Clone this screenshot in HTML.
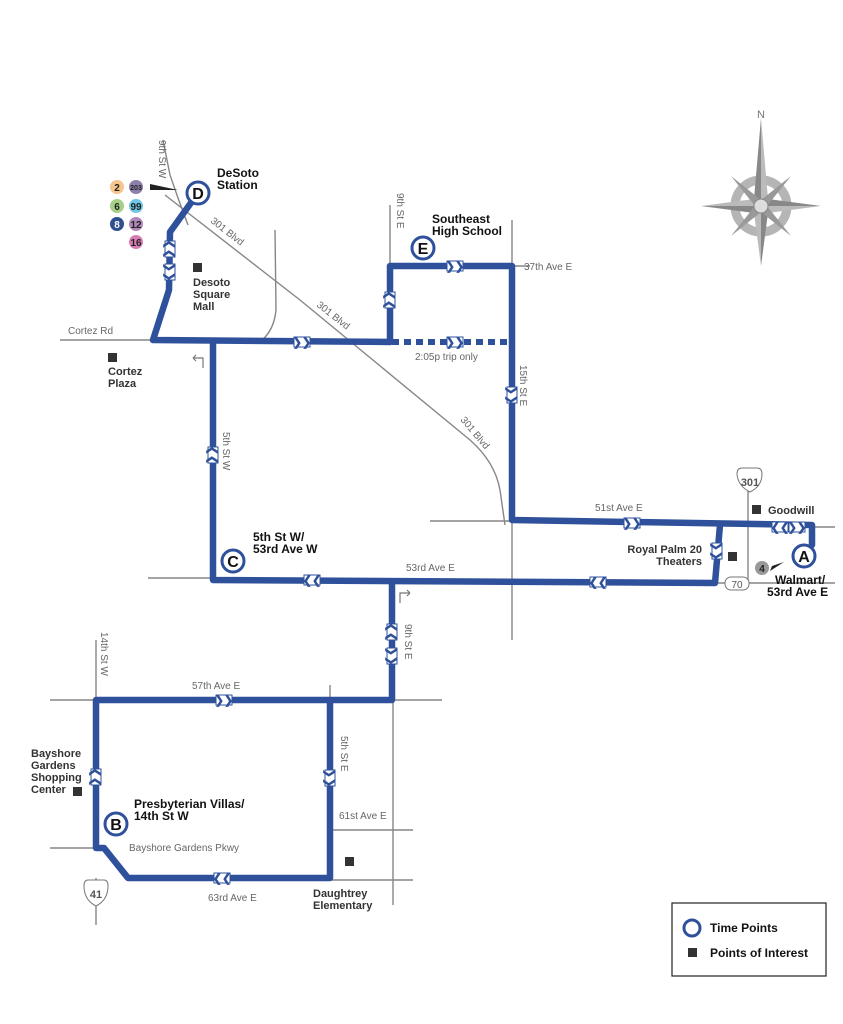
<!DOCTYPE html>
<html><head><meta charset="utf-8"><style>
html,body{margin:0;padding:0;background:#fff}
svg{display:block}
text{font-family:"Liberation Sans",sans-serif}
.r{fill:none;stroke:#868686;stroke-width:1.4}
.b{fill:none;stroke:#2f519c;stroke-width:6.5;stroke-linejoin:round;stroke-linecap:round}
.l{font-size:10px;fill:#666}
.p{font-size:11px;font-weight:bold;fill:#333}
.t{font-size:12px;font-weight:bold;fill:#111}
.c{fill:#fff;stroke:#2f519c;stroke-width:1}
</style></head><body>
<svg width="843" height="1024" viewBox="0 0 843 1024" xmlns="http://www.w3.org/2000/svg">
<g class="r">
<path d="M163 140 L170 175 L178 198 L188 225"/>
<path d="M165 195 L300 300 L470 440 Q495 462 500 490 L505 525"/>
<path d="M60 340 L153 340"/>
<path d="M275 230 L276 310 Q274 330 262 340"/>
<path d="M390 205 L390 266"/>
<path d="M512 220 L512 640"/>
<path d="M512 266 L530 266"/>
<path d="M430 521 L512 521"/>
<path d="M148 578 L213 578"/>
<path d="M715 583 L835 583"/>
<path d="M748 490 L748 580"/>
<path d="M812 527 L835 527"/>
<path d="M96 640 L96 700"/>
<path d="M50 700 L96 700"/>
<path d="M392 700 L442 700"/>
<path d="M330 685 L330 700"/>
<path d="M50 848 L96 848"/>
<path d="M96 878 L96 925"/>
<path d="M330 830 L413 830"/>
<path d="M330 880 L413 880"/>
<path d="M393 700 L393 905"/>
</g>
<path d="M392 342 L512 342" stroke="#2f519c" stroke-width="6" stroke-dasharray="7,5" fill="none"/>
<path class="b" d="M198 193 L170 232 L169 290 L153 340 L390 342 L390 266 L512 266 L512 520 L812 525 L812 545"/>
<path class="b" d="M213 342 L213 580 L715 583 L720 525"/>
<path class="b" d="M392 582 L392 700 L96 700 L96 848 L104 848 L128 878 L330 878 L330 700"/>
<g font-size="11" font-weight="bold" fill="#2f519c" text-anchor="middle">
<g transform="translate(302,342)"><rect x="-8" y="-5" width="16" height="10" class="c"/><text y="4">❯❯</text></g>
<g transform="translate(455,266)"><rect x="-8" y="-5" width="16" height="10" class="c"/><text y="4">❯❯</text></g>
<g transform="translate(455,342)"><rect x="-8" y="-5" width="16" height="10" class="c"/><text y="4">❯❯</text></g>
<g transform="translate(632,523)"><rect x="-8" y="-5" width="16" height="10" class="c"/><text y="4">❯❯</text></g>
<g transform="translate(780,527)"><rect x="-8" y="-5" width="16" height="10" class="c"/><text y="4">❮❮</text></g>
<g transform="translate(797,527)"><rect x="-8" y="-5" width="16" height="10" class="c"/><text y="4">❯❯</text></g>
<g transform="translate(598,582)"><rect x="-8" y="-5" width="16" height="10" class="c"/><text y="4">❮❮</text></g>
<g transform="translate(312,580)"><rect x="-8" y="-5" width="16" height="10" class="c"/><text y="4">❮❮</text></g>
<g transform="translate(224,700)"><rect x="-8" y="-5" width="16" height="10" class="c"/><text y="4">❯❯</text></g>
<g transform="translate(222,878)"><rect x="-8" y="-5" width="16" height="10" class="c"/><text y="4">❮❮</text></g>
<g transform="translate(170,249) rotate(90)"><rect x="-8" y="-5" width="16" height="10" class="c"/><text y="4">❮❮</text></g>
<g transform="translate(170,272) rotate(90)"><rect x="-8" y="-5" width="16" height="10" class="c"/><text y="4">❯❯</text></g>
<g transform="translate(390,300) rotate(90)"><rect x="-8" y="-5" width="16" height="10" class="c"/><text y="4">❮❮</text></g>
<g transform="translate(512,395) rotate(90)"><rect x="-8" y="-5" width="16" height="10" class="c"/><text y="4">❯❯</text></g>
<g transform="translate(213,455) rotate(90)"><rect x="-8" y="-5" width="16" height="10" class="c"/><text y="4">❮❮</text></g>
<g transform="translate(392,632) rotate(90)"><rect x="-8" y="-5" width="16" height="10" class="c"/><text y="4">❮❮</text></g>
<g transform="translate(392,656) rotate(90)"><rect x="-8" y="-5" width="16" height="10" class="c"/><text y="4">❯❯</text></g>
<g transform="translate(96,777) rotate(90)"><rect x="-8" y="-5" width="16" height="10" class="c"/><text y="4">❮❮</text></g>
<g transform="translate(330,778) rotate(90)"><rect x="-8" y="-5" width="16" height="10" class="c"/><text y="4">❯❯</text></g>
<g transform="translate(717,551) rotate(90)"><rect x="-8" y="-5" width="16" height="10" class="c"/><text y="4">❯❯</text></g>
</g>
<text class="l" x="68" y="334">Cortez Rd</text>
<text class="l" transform="translate(210,222) rotate(38)">301 Blvd</text>
<text class="l" transform="translate(316,306) rotate(38)">301 Blvd</text>
<text class="l" transform="translate(460,420) rotate(50)">301 Blvd</text>
<text class="l" transform="translate(159,140) rotate(90)">9th St W</text>
<text class="l" transform="translate(397,193) rotate(90)">9th St E</text>
<text class="l" x="524" y="270">37th Ave E</text>
<text class="l" x="415" y="360">2:05p trip only</text>
<text class="l" transform="translate(520,365) rotate(90)">15th St E</text>
<text class="l" transform="translate(223,432) rotate(90)">5th St W</text>
<text class="l" x="595" y="511">51st Ave E</text>
<text class="l" x="406" y="571">53rd Ave E</text>
<text class="l" transform="translate(405,624) rotate(90)">9th St E</text>
<text class="l" transform="translate(101,632) rotate(90)">14th St W</text>
<text class="l" x="192" y="689">57th Ave E</text>
<text class="l" transform="translate(341,736) rotate(90)">5th St E</text>
<text class="l" x="339" y="819">61st Ave E</text>
<text class="l" x="129" y="851">Bayshore Gardens Pkwy</text>
<text class="l" x="208" y="901">63rd Ave E</text>
<path d="M193 358 L203 358 L203 368 M193 358 l3 -3 M193 358 l3 3" fill="none" stroke="#777" stroke-width="1.2"/>
<path d="M410 593 L400 593 L400 603 M410 593 l-3 -3 M410 593 l-3 3" fill="none" stroke="#777" stroke-width="1.2"/>
<g fill="#333"><rect x="193" y="263" width="9" height="9"/><rect x="108" y="353" width="9" height="9"/><rect x="752" y="505" width="9" height="9"/><rect x="728" y="552" width="9" height="9"/><rect x="73" y="787" width="9" height="9"/><rect x="345" y="857" width="9" height="9"/></g>
<text class="p" x="193" y="286">Desoto</text><text class="p" x="193" y="298">Square</text><text class="p" x="193" y="310">Mall</text>
<text class="p" x="108" y="375">Cortez</text><text class="p" x="108" y="387">Plaza</text>
<text class="p" x="768" y="514">Goodwill</text>
<text class="p" x="702" y="553" text-anchor="end">Royal Palm 20</text><text class="p" x="702" y="565" text-anchor="end">Theaters</text>
<text class="p" x="31" y="757">Bayshore</text><text class="p" x="31" y="769">Gardens</text><text class="p" x="31" y="781">Shopping</text><text class="p" x="31" y="793">Center</text>
<text class="p" x="313" y="897">Daughtrey</text><text class="p" x="313" y="909">Elementary</text>
<path d="M737 474 Q737 468 742 468 L757 468 Q762 468 762 474 Q762 486 750 492 Q738 486 737 474Z" fill="#fff" stroke="#777"/>
<text x="750" y="486" font-size="11" font-weight="bold" fill="#555" text-anchor="middle">301</text>
<rect x="725" y="577" width="24" height="13" rx="6" fill="#fff" stroke="#777"/>
<text x="737" y="588" font-size="10" fill="#555" text-anchor="middle">70</text>
<path d="M84 886 Q84 880 88 880 L104 880 Q108 880 108 886 Q108 900 96 906 Q84 900 84 886Z" fill="#fff" stroke="#777"/>
<text x="96" y="898" font-size="11" font-weight="bold" fill="#555" text-anchor="middle">41</text>
<g font-size="10" font-weight="bold" text-anchor="middle">
<circle cx="117" cy="187" r="7" fill="#f6c48c"/><text x="117" y="191" fill="#222">2</text>
<circle cx="136" cy="187" r="7" fill="#8c7fa8"/><text x="136" y="190" font-size="7" fill="#222">203</text>
<circle cx="117" cy="206" r="7" fill="#a6d08a"/><text x="117" y="210" fill="#222">6</text>
<circle cx="136" cy="206" r="7" fill="#6fc6e6"/><text x="136" y="210" fill="#222">99</text>
<circle cx="117" cy="224" r="7" fill="#2f4f8f"/><text x="117" y="228" fill="#fff">8</text>
<circle cx="136" cy="224" r="7" fill="#b087b8"/><text x="136" y="228" fill="#222">12</text>
<circle cx="136" cy="242" r="7" fill="#d97bb3"/><text x="136" y="246" fill="#222">16</text>
<circle cx="762" cy="568" r="7" fill="#999"/><text x="762" y="572" fill="#222">4</text>
</g>
<path d="M150 184 L178 190 L150 190Z" fill="#222"/>
<path d="M770 571 L784 562 L772 566Z" fill="#222"/>
<g font-size="16" font-weight="bold" text-anchor="middle" fill="#111">
<circle cx="198" cy="193" r="11" fill="#fff" stroke="#2f519c" stroke-width="3"/><text x="198" y="199">D</text>
<circle cx="423" cy="248" r="11" fill="#fff" stroke="#2f519c" stroke-width="3"/><text x="423" y="254">E</text>
<circle cx="233" cy="561" r="11" fill="#fff" stroke="#2f519c" stroke-width="3"/><text x="233" y="567">C</text>
<circle cx="804" cy="556" r="11" fill="#fff" stroke="#2f519c" stroke-width="3"/><text x="804" y="562">A</text>
<circle cx="116" cy="824" r="11" fill="#fff" stroke="#2f519c" stroke-width="3"/><text x="116" y="830">B</text>
</g>
<text class="t" x="217" y="177">DeSoto</text><text class="t" x="217" y="189">Station</text>
<text class="t" x="432" y="223">Southeast</text><text class="t" x="432" y="235">High School</text>
<text class="t" x="253" y="541">5th St W/</text><text class="t" x="253" y="553">53rd Ave W</text>
<text class="t" x="775" y="584">Walmart/</text><text class="t" x="767" y="596">53rd Ave E</text>
<text class="t" x="134" y="808">Presbyterian Villas/</text><text class="t" x="134" y="820">14th St W</text>
<g transform="translate(761,206)">
<circle r="26" fill="none" stroke="#b5b5b5" stroke-width="9"/>
<path d="M0 -88 L7 -7 L0 0Z" fill="#bbb"/><path d="M0 -88 L-7 -7 L0 0Z" fill="#888"/>
<path d="M0 60 L7 7 L0 0Z" fill="#888"/><path d="M0 60 L-7 7 L0 0Z" fill="#bbb"/>
<path d="M-60 0 L-7 -7 L0 0Z" fill="#bbb"/><path d="M-60 0 L-7 7 L0 0Z" fill="#888"/>
<path d="M60 0 L7 -7 L0 0Z" fill="#888"/><path d="M60 0 L7 7 L0 0Z" fill="#bbb"/>
<path d="M-30 -30 L0 -6 L-6 0Z M30 -30 L6 0 L0 -6Z M-30 30 L-6 0 L0 6Z M30 30 L0 6 L6 0Z" fill="#999"/>
<circle r="7" fill="#ddd" stroke="#888"/>
<text x="0" y="-88" font-size="11" fill="#777" text-anchor="middle" font-family="Liberation Serif">N</text>
</g>
<rect x="672" y="903" width="154" height="73" fill="#fff" stroke="#222" stroke-width="1.2"/>
<circle cx="692" cy="928" r="8" fill="#fff" stroke="#2f519c" stroke-width="3"/>
<text class="t" x="710" y="932">Time Points</text>
<rect x="688" y="948" width="9" height="9" fill="#333"/>
<text class="t" x="710" y="957">Points of Interest</text>
</svg>
</body></html>
